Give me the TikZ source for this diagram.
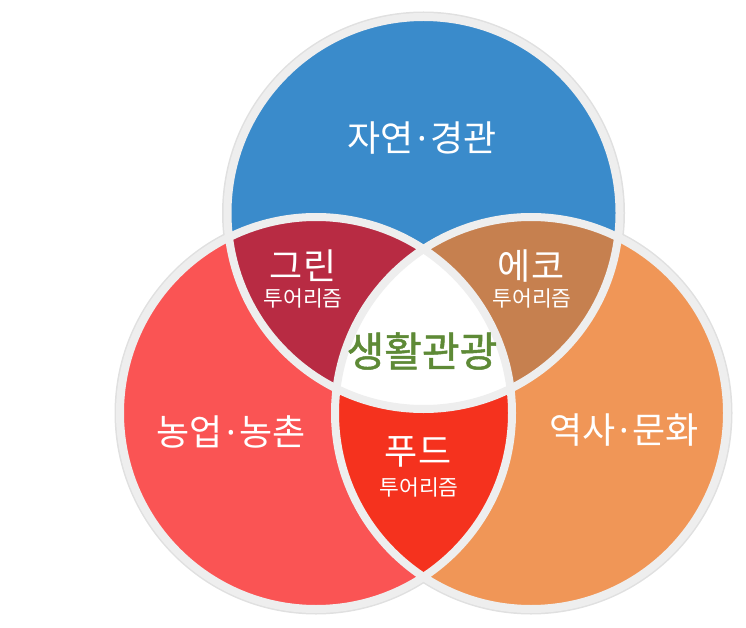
\documentclass[tikz,border=0pt]{standalone}
\usepackage{fontspec}
\newfontfamily\kr{Noto Sans CJK KR}
\newfontfamily\krmed[FakeBold=1.2]{Noto Sans CJK KR}
\newfontfamily\dotfont{Noto Sans}
\definecolor{cblue}{HTML}{3A8BCB}
\definecolor{cred}{HTML}{FA5454}
\definecolor{corange}{HTML}{F09657}
\definecolor{cgreen}{HTML}{B82B43}
\definecolor{ceco}{HTML}{C6804F}
\definecolor{cfood}{HTML}{F5321E}
\definecolor{cring}{HTML}{EEEEEE}
\definecolor{cshade}{HTML}{E0E0E0}
\definecolor{ctitle}{HTML}{5E8A36}
\tikzset{
  big/.style={font=\kr\fontsize{36}{36}\selectfont, inner sep=0pt, text=white},
  sub/.style={font=\kr\fontsize{21.5}{21.5}\selectfont, inner sep=0pt, text=white},
  core/.style={font=\krmed\fontsize{41}{41}\selectfont, inner sep=0pt, text=ctitle},
  ring/.style={draw=cring, line width=8pt},
  halo/.style={draw=cshade, line width=11pt},
}
\newcommand\md{\kern0.1em{\dotfont ·}\kern0.1em}
\begin{document}
\begin{tikzpicture}[x=1pt, y=-1pt]
\useasboundingbox (0,0) rectangle (746,628);
\coordinate (B) at (423.5,213);
\coordinate (R) at (316,413);
\coordinate (O) at (531,413);
\def\rr{196}
% soft halo
\foreach \c in {B,R,O} \draw[halo] (\c) circle (\rr);
% main fills
\fill[cblue] (B) circle (\rr);
\fill[cred] (R) circle (\rr);
\fill[corange] (O) circle (\rr);
% pairwise intersections
\begin{scope}
  \clip (B) circle (\rr);
  \fill[cgreen] (R) circle (\rr);
  \fill[ceco] (O) circle (\rr);
\end{scope}
\begin{scope}
  \clip (R) circle (\rr);
  \fill[cfood] (O) circle (\rr);
\end{scope}
% triple intersection
\begin{scope}
  \clip (B) circle (\rr);
  \clip (R) circle (\rr);
  \fill[white] (O) circle (\rr);
\end{scope}
% rings
\foreach \c in {B,R,O} \draw[ring] (\c) circle (\rr);
% labels
\node[big] (nature) at (422,138) {자연\md 경관};
\node[big] (green) at (303,266) {그린};
\node[sub] (greensub) at (303,298) {투어리즘};
\node[big] (eco) at (531,266) {에코};
\node[sub] (ecosub) at (532,298) {투어리즘};
\node[big] (farm) at (231,432) {농업\md 농촌};
\node[big] (hist) at (624,430) {역사\md 문화};
\node[big] (food) at (418,452) {푸드};
\node[sub] (foodsub) at (419,487) {투어리즘};
\node[core] (life) at (422,351) {생활관광};
\end{tikzpicture}
\end{document}
